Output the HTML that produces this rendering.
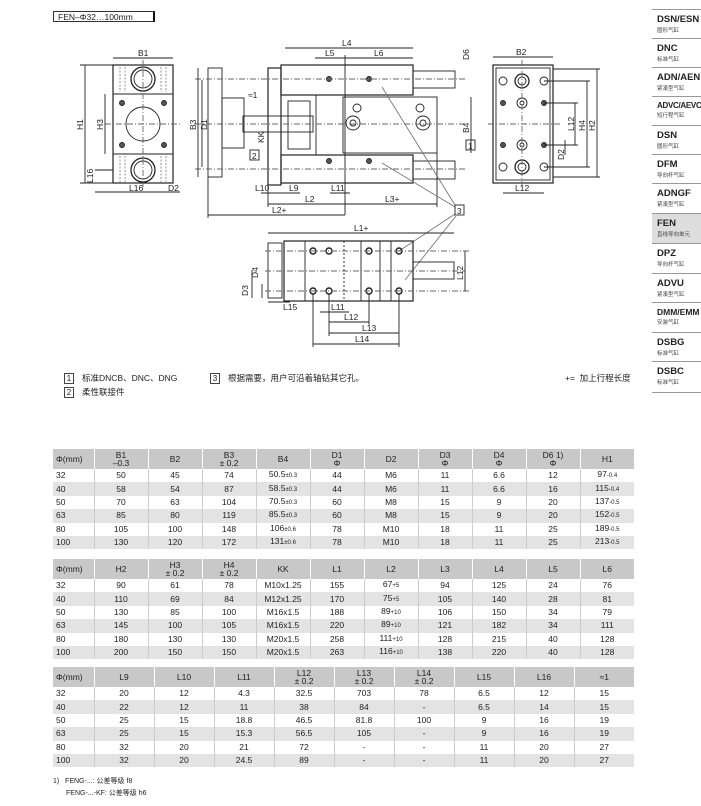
<!DOCTYPE html>
<html><head><meta charset="utf-8"><style>
body{margin:0;width:701px;height:806px;background:#fff;position:relative;overflow:hidden;font-family:"Liberation Sans","Noto Sans CJK SC",sans-serif;color:#222}
.sb{position:absolute;left:652px;width:49px;border-top:1px solid #999}
.sb b{display:block;font-size:9.5px;margin:4px 0 0 5px;font-weight:bold;color:#222;white-space:nowrap}
.sb i{display:block;font-style:normal;font-size:5.5px;margin:1px 0 0 5px;color:#444}
table{position:absolute;left:53px;border-collapse:collapse;font-size:8.5px;table-layout:fixed}
th{background:#c8c8c8;font-weight:normal;height:20px;line-height:8px;border-left:1px solid #fff;padding:0;text-align:center;font-size:8.5px}
td{height:13.4px;padding:0;text-align:center;border-left:1px solid #ccc;line-height:11px}
td:first-child,th:first-child{text-align:left;padding-left:3px;border-left:none}
tr.g td{background:#e3e3e3}
sub{font-size:6px;vertical-align:baseline}
.n{position:absolute;font-size:8.5px}
.bx{display:inline-block;border:1px solid #444;width:8px;height:9px;line-height:9px;text-align:center;font-size:8px;margin-right:8px}
</style></head><body>
<div style="position:absolute;left:53px;top:11px;width:102px;height:11px;border:1px solid #333;border-right:2px solid #111;font-size:8.5px;line-height:11px;padding-left:4px;box-sizing:border-box">FEN–Φ32…100mm</div>

<svg width="701" height="806" style="position:absolute;left:0;top:0" font-family="Liberation Sans" font-size="8.5" fill="none" stroke="#222" stroke-width="0.9">
<!-- left view -->
<rect x="113" y="65" width="60" height="118" stroke-width="1.2"/>
<line x1="113" y1="94" x2="173" y2="94"/><line x1="113" y1="154" x2="173" y2="154"/>
<circle cx="143" cy="124" r="17"/>
<circle cx="143" cy="79" r="12" stroke-width="1.3"/><circle cx="143" cy="79" r="9"/>
<circle cx="143" cy="170" r="12" stroke-width="1.3"/><circle cx="143" cy="170" r="9"/>
<g fill="#555"><circle cx="122" cy="103" r="2.5"/><circle cx="164" cy="103" r="2.5"/><circle cx="122" cy="145" r="2.5"/><circle cx="164" cy="145" r="2.5"/></g>
<g stroke-dasharray="2,1.5" stroke="#888"><line x1="120" y1="67" x2="120" y2="92"/><line x1="125" y1="67" x2="125" y2="92"/><line x1="161" y1="67" x2="161" y2="92"/><line x1="166" y1="67" x2="166" y2="92"/><line x1="120" y1="156" x2="120" y2="182"/><line x1="125" y1="156" x2="125" y2="182"/><line x1="161" y1="156" x2="161" y2="182"/><line x1="166" y1="156" x2="166" y2="182"/></g>
<g stroke-dasharray="6,2,1,2" stroke="#666"><line x1="105" y1="124" x2="180" y2="124"/><line x1="143" y1="60" x2="143" y2="188"/></g>
<line x1="113" y1="58" x2="173" y2="58"/><line x1="85" y1="65" x2="85" y2="183"/><line x1="105" y1="94" x2="105" y2="154"/>
<line x1="80" y1="65" x2="113" y2="65"/><line x1="80" y1="183" x2="113" y2="183"/>
<line x1="95" y1="170" x2="113" y2="170"/><line x1="95" y1="192" x2="180" y2="192"/>
<!-- side view -->
<rect x="208" y="68" width="14" height="109"/>
<rect x="268" y="68" width="13" height="117" stroke-width="1.2"/>
<rect x="281" y="65" width="132" height="30" stroke-width="1.2"/>
<rect x="281" y="155" width="132" height="28" stroke-width="1.2"/>
<path d="M281 95 H316 V155 H281"/>
<rect x="288" y="101" width="22" height="48"/>
<rect x="343" y="97" width="94" height="56"/>
<rect x="413" y="71" width="42" height="17"/><rect x="413" y="161" width="42" height="18"/>
<rect x="222" y="98" width="22" height="50"/>
<rect x="243" y="116" width="70" height="16"/>
<circle cx="353" cy="123" r="7"/><circle cx="423" cy="123" r="7"/><circle cx="353" cy="123" r="3"/><circle cx="423" cy="123" r="3"/>
<circle cx="357" cy="108" r="4"/><circle cx="420" cy="108" r="4"/>
<g fill="#555"><circle cx="329" cy="79" r="2.5"/><circle cx="369" cy="79" r="2.5"/><circle cx="329" cy="161" r="2.5"/><circle cx="369" cy="161" r="2.5"/></g>
<g stroke-dasharray="6,2,1,2" stroke="#666"><line x1="195" y1="124" x2="465" y2="124"/><line x1="195" y1="79" x2="465" y2="79"/><line x1="195" y1="169" x2="465" y2="169"/></g>
<line x1="285" y1="48" x2="413" y2="48"/><line x1="315" y1="58" x2="345" y2="58"/><line x1="345" y1="58" x2="413" y2="58"/>
<line x1="345" y1="55" x2="345" y2="215"/>
<line x1="208" y1="215" x2="345" y2="215"/><line x1="268" y1="204" x2="345" y2="204"/><line x1="345" y1="204" x2="437" y2="204"/>
<line x1="202" y1="80" x2="202" y2="167"/><line x1="198" y1="68" x2="198" y2="177"/>
<line x1="471" y1="97" x2="471" y2="153"/>
<line x1="208" y1="177" x2="208" y2="218"/><line x1="268" y1="185" x2="268" y2="207"/><line x1="437" y1="153" x2="437" y2="207"/>
<line x1="261" y1="193" x2="300" y2="193"/><line x1="330" y1="193" x2="350" y2="193"/>
<line x1="382" y1="87" x2="455" y2="205" stroke="#777"/><line x1="382" y1="163" x2="455" y2="207" stroke="#777"/>
<line x1="399" y1="251" x2="455" y2="214" stroke="#777"/><line x1="405" y1="280" x2="456" y2="216" stroke="#777"/>
<!-- right view -->
<rect x="493" y="65" width="60" height="118" stroke-width="1.2"/><rect x="496" y="68" width="54" height="112"/>
<g><circle cx="503" cy="81" r="4"/><circle cx="544" cy="81" r="4"/><circle cx="522" cy="81" r="7" stroke-width="1.3"/><circle cx="522" cy="81" r="4"/>
<circle cx="503" cy="167" r="4"/><circle cx="544" cy="167" r="4"/><circle cx="522" cy="167" r="7" stroke-width="1.3"/><circle cx="522" cy="167" r="4"/>
<circle cx="522" cy="103" r="5"/><circle cx="522" cy="145" r="5"/><circle cx="522" cy="103" r="2"/><circle cx="522" cy="145" r="2"/></g>
<g fill="#555"><circle cx="503" cy="103" r="2.5"/><circle cx="544" cy="103" r="2.5"/><circle cx="503" cy="145" r="2.5"/><circle cx="544" cy="145" r="2.5"/></g>
<g stroke-dasharray="6,2,1,2" stroke="#666"><line x1="488" y1="124" x2="560" y2="124"/><line x1="522" y1="60" x2="522" y2="188"/></g>
<line x1="493" y1="57" x2="553" y2="57"/><line x1="503" y1="193" x2="544" y2="193"/>
<line x1="597" y1="69" x2="597" y2="177"/><line x1="587" y1="81" x2="587" y2="167"/><line x1="575" y1="103" x2="575" y2="145"/><line x1="565" y1="140" x2="565" y2="155"/>
<line x1="553" y1="69" x2="600" y2="69"/><line x1="553" y1="177" x2="600" y2="177"/><line x1="544" y1="81" x2="590" y2="81"/><line x1="544" y1="167" x2="590" y2="167"/><line x1="544" y1="103" x2="578" y2="103"/><line x1="544" y1="145" x2="578" y2="145"/>
<!-- bottom view -->
<rect x="284" y="241" width="129" height="60" stroke-width="1.2"/>
<rect x="268" y="243" width="14" height="55"/>
<rect x="413" y="262" width="41" height="17"/>
<line x1="305" y1="241" x2="305" y2="301"/><line x1="361" y1="241" x2="361" y2="301"/><line x1="380" y1="241" x2="380" y2="301"/><line x1="391" y1="241" x2="391" y2="301"/>
<line x1="344" y1="241" x2="344" y2="301" stroke-dasharray="2,2"/>
<g stroke-width="1.4"><circle cx="313" cy="251" r="3"/><circle cx="329" cy="251" r="3"/><circle cx="369" cy="251" r="3"/><circle cx="399" cy="251" r="3"/><circle cx="313" cy="291" r="3"/><circle cx="329" cy="291" r="3"/><circle cx="369" cy="291" r="3"/><circle cx="399" cy="291" r="3"/></g>
<g stroke-dasharray="6,2,1,2" stroke="#666"><line x1="265" y1="271" x2="465" y2="271"/><line x1="265" y1="251" x2="470" y2="251"/><line x1="265" y1="291" x2="470" y2="291"/></g>
<line x1="268" y1="233" x2="454" y2="233"/><line x1="465" y1="251" x2="465" y2="291"/>
<line x1="313" y1="344" x2="399" y2="344"/><line x1="329" y1="333" x2="399" y2="333"/><line x1="329" y1="322" x2="369" y2="322"/><line x1="320" y1="312" x2="349" y2="312"/>
<line x1="268" y1="302" x2="290" y2="302"/>
<line x1="313" y1="294" x2="313" y2="347"/><line x1="329" y1="294" x2="329" y2="336"/><line x1="369" y1="294" x2="369" y2="325"/><line x1="399" y1="294" x2="399" y2="347"/>
<line x1="252" y1="270" x2="252" y2="298"/><line x1="262" y1="284" x2="262" y2="298"/>
<g fill="#222" stroke="none" font-size="8.5">
<text x="138" y="56">B1</text><text x="83" y="130" transform="rotate(-90 83 130)">H1</text><text x="103" y="130" transform="rotate(-90 103 130)">H3</text>
<text x="93" y="183" transform="rotate(-90 93 183)">L16</text><text x="129" y="191">L16</text><text x="168" y="191">D2</text>
<text x="342" y="46">L4</text><text x="325" y="56">L5</text><text x="374" y="56">L6</text>
<text x="196" y="130" transform="rotate(-90 196 130)">B3</text><text x="207" y="130" transform="rotate(-90 207 130)">D1</text>
<text x="248" y="98">≈1</text><text x="264" y="143" transform="rotate(-90 264 143)">KK</text>
<text x="255" y="191">L10</text><text x="289" y="191">L9</text><text x="331" y="191">L11</text>
<text x="305" y="202">L2</text><text x="385" y="202">L3+</text><text x="272" y="213">L2+</text>
<text x="469" y="60" transform="rotate(-90 469 60)">D6</text><text x="469" y="133" transform="rotate(-90 469 133)">B4</text>
<text x="516" y="55">B2</text><text x="515" y="191">L12</text>
<text x="574" y="131" transform="rotate(-90 574 131)">L12</text><text x="585" y="131" transform="rotate(-90 585 131)">H4</text><text x="595" y="131" transform="rotate(-90 595 131)">H2</text><text x="564" y="160" transform="rotate(-90 564 160)">D2</text>
<text x="354" y="231">L1+</text><text x="463" y="280" transform="rotate(-90 463 280)">L12</text>
<text x="258" y="278" transform="rotate(-90 258 278)">D4</text><text x="248" y="296" transform="rotate(-90 248 296)">D3</text>
<text x="283" y="310">L15</text><text x="331" y="310">L11</text><text x="344" y="320">L12</text><text x="362" y="331">L13</text><text x="355" y="342">L14</text>
</g>
<rect x="455" y="205" width="9" height="10"/><text x="457" y="214" fill="#222" stroke="none" font-size="8">3</text>
<rect x="466" y="140" width="9" height="10"/><text x="468" y="149" fill="#222" stroke="none" font-size="8">1</text>
<rect x="250" y="150" width="9" height="10"/><text x="252" y="159" fill="#222" stroke="none" font-size="8">2</text>
</svg>

<div class="n" style="left:64px;top:372px"><span class="bx">1</span>标准DNCB、DNC、DNG</div>
<div class="n" style="left:64px;top:386px"><span class="bx">2</span>柔性联接件</div>
<div class="n" style="left:210px;top:372px"><span class="bx">3</span>根据需要，用户可沿着轴钻其它孔。</div>
<div class="n" style="left:565px;top:372px">+=&nbsp; 加上行程长度</div>

<div class="sb" style="top:9px"><b>DSN/ESN</b><i>圆形气缸</i></div>
<div class="sb" style="top:38px"><b>DNC</b><i>标准气缸</i></div>
<div class="sb" style="top:67px"><b>ADN/AEN</b><i>紧凑型气缸</i></div>
<div class="sb" style="top:96px"><b style="font-size:8px;letter-spacing:-0.3px">ADVC/AEVC</b><i>短行程气缸</i></div>
<div class="sb" style="top:125px"><b>DSN</b><i>圆形气缸</i></div>
<div class="sb" style="top:154px"><b>DFM</b><i>导向杆气缸</i></div>
<div class="sb" style="top:183px"><b>ADNGF</b><i>紧凑型气缸</i></div>
<div class="sb" style="top:213px;height:29px;background:#ddd"><b>FEN</b><i>直线导向单元</i></div>
<div class="sb" style="top:243px"><b>DPZ</b><i>导向杆气缸</i></div>
<div class="sb" style="top:273px"><b>ADVU</b><i>紧凑型气缸</i></div>
<div class="sb" style="top:302px"><b style="font-size:8.5px">DMM/EMM</b><i>安装气缸</i></div>
<div class="sb" style="top:332px"><b>DSBG</b><i>标准气缸</i></div>
<div class="sb" style="top:361px;height:30px;border-bottom:1px solid #999"><b>DSBC</b><i>标准气缸</i></div>

<table style="top:449px;width:581px"><colgroup><col style="width:41px"><col span="10" style="width:54px"></colgroup>
<tr><th>Φ(mm)</th><th>B1<br>–0.3</th><th>B2</th><th>B3<br>± 0.2</th><th>B4</th><th>D1<br>Φ</th><th>D2</th><th>D3<br>Φ</th><th>D4<br>Φ</th><th>D6 1)<br>Φ</th><th>H1</th></tr>
<tr><td>32</td><td>50</td><td>45</td><td>74</td><td>50.5<sub>±0.3</sub></td><td>44</td><td>M6</td><td>11</td><td>6.6</td><td>12</td><td>97<sub>-0.4</sub></td></tr>
<tr class="g"><td>40</td><td>58</td><td>54</td><td>87</td><td>58.5<sub>±0.3</sub></td><td>44</td><td>M6</td><td>11</td><td>6.6</td><td>16</td><td>115<sub>-0.4</sub></td></tr>
<tr><td>50</td><td>70</td><td>63</td><td>104</td><td>70.5<sub>±0.3</sub></td><td>60</td><td>M8</td><td>15</td><td>9</td><td>20</td><td>137<sub>-0.5</sub></td></tr>
<tr class="g"><td>63</td><td>85</td><td>80</td><td>119</td><td>85.5<sub>±0.3</sub></td><td>60</td><td>M8</td><td>15</td><td>9</td><td>20</td><td>152<sub>-0.5</sub></td></tr>
<tr><td>80</td><td>105</td><td>100</td><td>148</td><td>106<sub>±0.6</sub></td><td>78</td><td>M10</td><td>18</td><td>11</td><td>25</td><td>189<sub>-0.5</sub></td></tr>
<tr class="g"><td>100</td><td>130</td><td>120</td><td>172</td><td>131<sub>±0.6</sub></td><td>78</td><td>M10</td><td>18</td><td>11</td><td>25</td><td>213<sub>-0.5</sub></td></tr>
</table>

<table style="top:559px;width:581px"><colgroup><col style="width:41px"><col span="10" style="width:54px"></colgroup>
<tr><th>Φ(mm)</th><th>H2</th><th>H3<br>± 0.2</th><th>H4<br>± 0.2</th><th>KK</th><th>L1</th><th>L2</th><th>L3</th><th>L4</th><th>L5</th><th>L6</th></tr>
<tr><td>32</td><td>90</td><td>61</td><td>78</td><td>M10x1.25</td><td>155</td><td>67<sub>+5</sub></td><td>94</td><td>125</td><td>24</td><td>76</td></tr>
<tr class="g"><td>40</td><td>110</td><td>69</td><td>84</td><td>M12x1.25</td><td>170</td><td>75<sub>+5</sub></td><td>105</td><td>140</td><td>28</td><td>81</td></tr>
<tr><td>50</td><td>130</td><td>85</td><td>100</td><td>M16x1.5</td><td>188</td><td>89<sub>+10</sub></td><td>106</td><td>150</td><td>34</td><td>79</td></tr>
<tr class="g"><td>63</td><td>145</td><td>100</td><td>105</td><td>M16x1.5</td><td>220</td><td>89<sub>+10</sub></td><td>121</td><td>182</td><td>34</td><td>111</td></tr>
<tr><td>80</td><td>180</td><td>130</td><td>130</td><td>M20x1.5</td><td>258</td><td>111<sub>+10</sub></td><td>128</td><td>215</td><td>40</td><td>128</td></tr>
<tr class="g"><td>100</td><td>200</td><td>150</td><td>150</td><td>M20x1.5</td><td>263</td><td>116<sub>+10</sub></td><td>138</td><td>220</td><td>40</td><td>128</td></tr>
</table>

<table style="top:667px;width:581px"><colgroup><col style="width:41px"><col span="9" style="width:60px"></colgroup>
<tr><th>Φ(mm)</th><th>L9</th><th>L10</th><th>L11</th><th>L12<br>± 0.2</th><th>L13<br>± 0.2</th><th>L14<br>± 0.2</th><th>L15</th><th>L16</th><th>≈1</th></tr>
<tr><td>32</td><td>20</td><td>12</td><td>4.3</td><td>32.5</td><td>703</td><td>78</td><td>6.5</td><td>12</td><td>15</td></tr>
<tr class="g"><td>40</td><td>22</td><td>12</td><td>11</td><td>38</td><td>84</td><td>-</td><td>6.5</td><td>14</td><td>15</td></tr>
<tr><td>50</td><td>25</td><td>15</td><td>18.8</td><td>46.5</td><td>81.8</td><td>100</td><td>9</td><td>16</td><td>19</td></tr>
<tr class="g"><td>63</td><td>25</td><td>15</td><td>15.3</td><td>56.5</td><td>105</td><td>-</td><td>9</td><td>16</td><td>19</td></tr>
<tr><td>80</td><td>32</td><td>20</td><td>21</td><td>72</td><td>-</td><td>-</td><td>11</td><td>20</td><td>27</td></tr>
<tr class="g"><td>100</td><td>32</td><td>20</td><td>24.5</td><td>89</td><td>-</td><td>-</td><td>11</td><td>20</td><td>27</td></tr>
</table>

<div class="n" style="left:53px;top:776px;font-size:7px">1)&nbsp;&nbsp; FENG-...: 公差等级 f8</div>
<div class="n" style="left:66px;top:788px;font-size:7px">FENG-...-KF: 公差等级 h6</div>
</body></html>
